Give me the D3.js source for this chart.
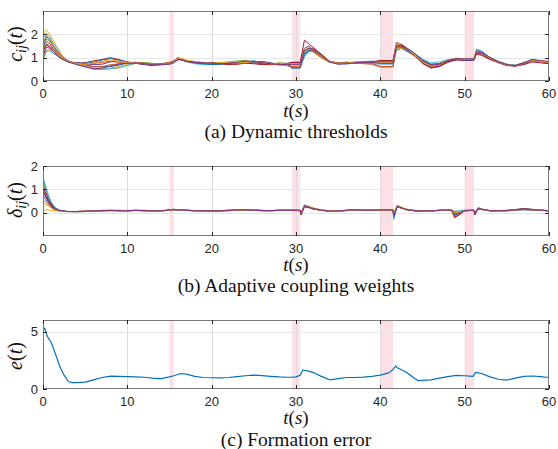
<!DOCTYPE html>
<html><head><meta charset="utf-8">
<script src="https://cdn.jsdelivr.net/npm/d3@7"></script>
<style>
html,body{margin:0;padding:0;background:#fff;}
svg{display:block;}
.tick-label{font-family:"Liberation Sans",Arial,Helvetica,sans-serif;font-size:13px;fill:#262626;}
.math{font-family:"Liberation Serif","Times New Roman",serif;fill:#111;}
.caption{font-family:"Liberation Serif","Times New Roman",serif;font-size:19.5px;fill:#111;}
</style>
</head><body>
<svg id="chart" width="558" height="449"></svg>
<script>
// ---------------- DATA ----------------
const COLORS = ["#0072BD","#D95319","#EDB120","#7E2F8E","#77AC30","#4DBEEE","#A2142F"];
const X_TICKS = [0,10,20,30,40,50,60];
const SHADE = [[15,15.5],[29.5,30.5],[40,41.5],[50,51.1]];

// (a) dynamic thresholds c_ij(t)
const T_A = [0,0.4,0.8,1.2,1.6,2,2.5,3,3.5,4,5,6,
  7,8,9,10,11,12,13,14,15,15.5,16,16.5,
  17,18,19,20,21,22,23,24,25,26,27,28,
  29,29.5,30.5,31,31.5,32,33,34,35,36,37,38,
  39,40,41.5,41.9,42.5,43,44,45,46,47,48,49,
  50,51.1,51.4,52,53,54,55,56,57,58,59,60];
const cA1 = [1.4,1.9,1.75,1.5,1.3,1.1,0.95,0.85,0.8,0.78,0.7,0.62,
  0.6,0.62,0.68,0.78,0.8,0.74,0.72,0.74,0.78,0.8,0.9,0.95,
  0.88,0.8,0.78,0.74,0.72,0.8,0.78,0.82,0.86,0.8,0.72,0.74,
  0.72,0.6,0.6,1.05,1.3,1.3,1.1,0.85,0.78,0.76,0.8,0.78,
  0.8,0.8,0.8,1.3,1.4,1.3,1.1,0.85,0.68,0.72,0.85,0.95,
  0.95,0.95,1.25,1.2,1.0,0.85,0.72,0.68,0.78,0.9,0.85,0.8];
const cA2 = [1.0,1.6,1.5,1.35,1.2,1.05,0.9,0.82,0.78,0.75,0.72,0.75,
  0.8,0.85,0.8,0.76,0.78,0.72,0.7,0.72,0.76,0.82,0.95,0.9,
  0.85,0.78,0.74,0.76,0.8,0.76,0.72,0.8,0.82,0.76,0.7,0.72,
  0.65,0.6,0.6,1.2,1.35,1.25,1.0,0.8,0.76,0.8,0.78,0.74,
  0.72,0.6,0.6,1.35,1.45,1.35,1.1,0.8,0.62,0.66,0.8,0.92,
  0.9,0.9,1.2,1.15,0.95,0.8,0.7,0.66,0.74,0.85,0.8,0.78];
const cA3 = [2.0,2.2,2.0,1.75,1.5,1.25,1.0,0.88,0.8,0.74,0.65,0.55,
  0.52,0.55,0.62,0.72,0.78,0.76,0.74,0.72,0.74,0.8,1.0,0.95,
  0.86,0.76,0.72,0.7,0.74,0.78,0.8,0.84,0.8,0.72,0.7,0.76,
  0.74,0.7,0.7,1.1,1.35,1.35,1.05,0.82,0.72,0.78,0.82,0.8,
  0.78,0.75,0.75,1.35,1.4,1.35,1.15,0.9,0.72,0.76,0.9,0.95,
  0.92,0.92,1.3,1.25,1.0,0.84,0.72,0.66,0.76,0.9,0.86,0.82];
const cA4 = [1.5,1.7,1.6,1.4,1.25,1.1,0.95,0.85,0.8,0.78,0.75,0.7,
  0.72,0.82,0.86,0.8,0.76,0.74,0.7,0.72,0.76,0.8,0.92,0.9,
  0.84,0.8,0.76,0.8,0.76,0.72,0.76,0.78,0.8,0.84,0.78,0.7,
  0.74,0.8,0.8,1.4,1.5,1.35,1.1,0.82,0.78,0.8,0.76,0.8,
  0.82,0.85,0.85,1.65,1.55,1.4,1.1,0.75,0.55,0.62,0.8,0.92,
  0.9,0.9,1.2,1.15,0.95,0.8,0.68,0.64,0.72,0.85,0.8,0.76];
const cA5 = [1.2,1.8,1.7,1.5,1.3,1.1,0.92,0.82,0.76,0.72,0.64,0.5,
  0.5,0.52,0.56,0.66,0.76,0.8,0.76,0.7,0.72,0.78,0.98,0.92,
  0.86,0.8,0.74,0.72,0.78,0.82,0.86,0.88,0.8,0.74,0.72,0.78,
  0.76,0.75,0.75,1.2,1.4,1.4,1.15,0.85,0.74,0.76,0.8,0.82,
  0.8,0.78,0.78,1.5,1.5,1.45,1.2,0.9,0.7,0.74,0.9,0.98,
  0.95,0.95,1.28,1.22,1.0,0.84,0.7,0.66,0.78,0.92,0.84,0.8];
const cA6 = [1.8,2.05,1.9,1.65,1.45,1.2,1.0,0.86,0.78,0.72,0.62,0.52,
  0.5,0.55,0.58,0.68,0.8,0.76,0.72,0.7,0.74,0.82,0.96,0.92,
  0.82,0.74,0.7,0.72,0.76,0.74,0.76,0.8,0.78,0.76,0.74,0.68,
  0.66,0.62,0.62,1.05,1.25,1.3,1.1,0.82,0.74,0.72,0.78,0.76,
  0.74,0.72,0.72,1.4,1.45,1.35,1.2,0.95,0.78,0.82,0.92,0.96,
  0.94,0.94,1.32,1.25,1.02,0.82,0.7,0.68,0.8,0.9,0.86,0.82];
const cA7 = [1.3,1.55,1.45,1.3,1.15,1.0,0.9,0.82,0.78,0.76,0.78,0.86,
  0.92,1.0,0.92,0.82,0.76,0.7,0.66,0.7,0.76,0.84,0.96,0.9,
  0.84,0.78,0.76,0.78,0.74,0.7,0.72,0.76,0.74,0.7,0.7,0.72,
  0.75,0.8,0.8,1.75,1.6,1.45,1.15,0.82,0.76,0.8,0.78,0.8,
  0.82,0.88,0.88,1.55,1.5,1.4,1.1,0.78,0.58,0.64,0.84,0.9,
  0.88,0.88,1.15,1.1,0.92,0.78,0.66,0.64,0.7,0.82,0.78,0.74];
const cA8 = [0.9,1.3,1.3,1.2,1.1,1.0,0.9,0.82,0.78,0.76,0.76,0.8,
  0.9,0.96,0.9,0.8,0.76,0.72,0.68,0.72,0.78,0.86,0.98,0.94,
  0.86,0.8,0.74,0.7,0.72,0.76,0.78,0.82,0.78,0.74,0.76,0.74,
  0.7,0.55,0.55,1.15,1.3,1.3,1.05,0.8,0.76,0.78,0.8,0.82,
  0.85,0.82,0.82,1.45,1.45,1.35,1.15,0.9,0.72,0.74,0.88,0.94,
  0.9,0.9,1.35,1.28,1.0,0.8,0.7,0.66,0.76,0.92,0.82,0.8];
const cA9 = [1.6,1.95,1.8,1.55,1.35,1.15,0.95,0.84,0.8,0.76,0.68,0.6,
  0.62,0.7,0.74,0.76,0.8,0.76,0.72,0.74,0.8,0.86,1.0,0.94,
  0.88,0.82,0.78,0.74,0.76,0.74,0.74,0.78,0.82,0.8,0.72,0.7,
  0.7,0.62,0.62,1.3,1.4,1.3,1.05,0.82,0.76,0.78,0.78,0.76,
  0.76,0.62,0.62,1.5,1.45,1.35,1.1,0.82,0.62,0.68,0.86,0.96,
  0.92,0.92,1.22,1.18,0.98,0.82,0.68,0.64,0.74,0.86,0.8,0.78];
const cA10 = [0.8,1.25,1.35,1.3,1.2,1.05,0.92,0.84,0.78,0.74,0.72,0.78,
  0.85,0.9,0.85,0.8,0.78,0.74,0.7,0.7,0.74,0.8,0.98,0.96,
  0.9,0.84,0.8,0.76,0.8,0.8,0.78,0.8,0.84,0.78,0.74,0.76,
  0.72,0.72,0.72,1.3,1.45,1.4,1.1,0.84,0.76,0.76,0.8,0.8,
  0.8,0.8,0.8,1.55,1.6,1.45,1.15,0.82,0.64,0.7,0.9,0.96,
  0.94,0.94,1.3,1.2,0.98,0.8,0.7,0.66,0.78,0.88,0.84,0.82];
const cA11 = [1.1,1.45,1.4,1.3,1.15,1.0,0.9,0.82,0.76,0.7,0.6,0.52,
  0.55,0.65,0.72,0.76,0.78,0.74,0.7,0.7,0.72,0.78,0.94,0.9,
  0.84,0.8,0.78,0.76,0.74,0.76,0.8,0.86,0.84,0.78,0.74,0.72,
  0.7,0.7,0.7,1.3,1.4,1.38,1.12,0.82,0.72,0.74,0.78,0.8,
  0.8,0.76,0.76,1.5,1.55,1.45,1.2,0.88,0.68,0.72,0.88,0.96,
  0.95,0.95,1.25,1.22,1.0,0.82,0.7,0.66,0.78,0.92,0.88,0.84];
const C_LINES = [cA1,cA2,cA3,cA4,cA5,cA6,cA7,cA8,cA9,cA10,cA11];

// (b) adaptive coupling weights delta_ij(t)
const T_B = [0,0.3,0.6,0.9,1.2,1.5,2,2.5,3,4,5,6,
  7,8,9,10,11,12,13,14,15,15.5,16,17,
  18,19,20,21,22,23,24,25,26,27,28,29,
  29.5,30.5,30.6,31,31.5,32,33,34,35,36,37,38,
  39,40,41.5,41.6,42,42.5,43,44,45,46,47,48,
  48.5,48.8,49.5,50,51.1,51.2,51.6,52,53,55,57,60];
const dB1 = [1.5,1.1,0.75,0.5,0.32,0.2,0.1,0.06,0.05,0.04,0.05,0.06,
  0.08,0.1,0.09,0.08,0.1,0.09,0.07,0.08,0.1,0.12,0.14,0.1,
  0.08,0.08,0.07,0.08,0.1,0.12,0.13,0.1,0.08,0.09,0.1,0.1,
  0.1,0.08,-0.05,0.3,0.25,0.18,0.1,0.06,0.07,0.1,0.11,0.1,
  0.1,0.12,0.12,-0.15,0.3,0.22,0.15,0.1,0.06,0.07,0.09,0.1,
  0.1,0.05,0.08,0.1,0.1,-0.05,0.2,0.15,0.08,0.08,0.12,0.08];
const dB2 = [1.2,0.9,0.6,0.4,0.26,0.16,0.08,0.05,0.04,0.04,0.05,0.07,
  0.09,0.09,0.08,0.09,0.1,0.08,0.08,0.07,0.12,0.14,0.12,0.1,
  0.08,0.07,0.08,0.09,0.1,0.11,0.12,0.1,0.09,0.08,0.1,0.11,
  0.1,0.1,-0.08,0.25,0.22,0.16,0.1,0.07,0.06,0.09,0.12,0.1,
  0.11,0.12,0.12,-0.05,0.28,0.2,0.14,0.08,0.07,0.08,0.1,0.1,
  0.08,-0.2,-0.05,0.1,0.1,-0.02,0.18,0.14,0.09,0.08,0.14,0.08];
const dB3 = [0.4,0.35,0.3,0.22,0.16,0.1,0.06,0.05,0.05,0.04,0.06,0.06,
  0.08,0.1,0.1,0.08,0.09,0.1,0.08,0.08,0.1,0.15,0.12,0.1,
  0.08,0.09,0.08,0.08,0.09,0.1,0.14,0.12,0.09,0.08,0.09,0.1,
  0.1,0.1,0.0,0.32,0.28,0.2,0.12,0.08,0.08,0.1,0.12,0.1,
  0.1,0.11,0.11,0.0,0.32,0.24,0.16,0.1,0.08,0.08,0.1,0.12,
  0.12,0.0,0.02,0.1,0.1,0.0,0.22,0.16,0.08,0.1,0.13,0.09];
const dB4 = [1.0,0.75,0.52,0.36,0.24,0.15,0.08,0.06,0.05,0.05,0.06,0.08,
  0.1,0.1,0.09,0.1,0.09,0.08,0.08,0.09,0.1,0.12,0.13,0.11,
  0.09,0.08,0.08,0.09,0.08,0.1,0.12,0.11,0.1,0.09,0.1,0.1,
  0.1,0.09,-0.02,0.28,0.24,0.18,0.1,0.08,0.08,0.1,0.14,0.1,
  0.1,0.12,0.12,-0.08,0.3,0.22,0.14,0.09,0.07,0.08,0.1,0.12,
  0.1,-0.1,0.0,0.08,0.1,-0.08,0.16,0.14,0.09,0.1,0.18,0.08];
const dB5 = [1.3,1.0,0.7,0.47,0.3,0.18,0.09,0.06,0.05,0.05,0.05,0.07,
  0.09,0.08,0.1,0.09,0.1,0.08,0.09,0.08,0.11,0.14,0.12,0.1,
  0.08,0.07,0.08,0.08,0.1,0.1,0.13,0.11,0.1,0.08,0.1,0.1,
  0.1,0.1,-0.04,0.3,0.27,0.2,0.12,0.08,0.07,0.09,0.12,0.1,
  0.1,0.11,0.11,-0.1,0.26,0.2,0.14,0.09,0.07,0.08,0.09,0.11,
  0.1,-0.05,0.02,0.08,0.1,-0.04,0.2,0.15,0.08,0.09,0.15,0.08];
const dB6 = [1.45,1.15,0.8,0.52,0.33,0.2,0.1,0.06,0.05,0.04,0.05,0.06,
  0.08,0.09,0.09,0.08,0.1,0.09,0.08,0.08,0.1,0.13,0.12,0.09,
  0.08,0.08,0.08,0.09,0.1,0.11,0.12,0.1,0.09,0.08,0.1,0.1,
  0.1,0.09,-0.06,0.35,0.26,0.18,0.11,0.07,0.07,0.1,0.12,0.1,
  0.1,0.12,0.12,-0.3,0.28,0.22,0.15,0.1,0.07,0.08,0.1,0.11,
  0.1,-0.08,0.0,0.08,0.1,-0.06,0.22,0.15,0.08,0.09,0.14,0.09];
const dB7 = [0.9,0.7,0.5,0.34,0.22,0.14,0.08,0.06,0.05,0.05,0.06,0.07,
  0.09,0.09,0.08,0.08,0.09,0.1,0.09,0.08,0.12,0.14,0.12,0.1,
  0.09,0.08,0.07,0.08,0.09,0.1,0.12,0.1,0.09,0.09,0.1,0.1,
  0.1,0.1,-0.1,0.26,0.22,0.16,0.1,0.07,0.07,0.1,0.13,0.1,
  0.1,0.12,0.12,-0.12,0.25,0.2,0.13,0.08,0.07,0.08,0.1,0.1,
  0.08,-0.22,-0.06,0.08,0.1,-0.1,0.18,0.14,0.08,0.09,0.16,0.08];
const dB8 = [0.75,0.58,0.42,0.3,0.2,0.13,0.07,0.05,0.05,0.05,0.06,0.07,
  0.09,0.1,0.09,0.09,0.1,0.09,0.08,0.08,0.11,0.13,0.12,0.1,
  0.09,0.08,0.08,0.08,0.1,0.11,0.12,0.11,0.09,0.09,0.1,0.1,
  0.1,0.1,-0.06,0.3,0.25,0.18,0.11,0.07,0.07,0.1,0.12,0.1,
  0.1,0.12,0.12,-0.2,0.27,0.21,0.14,0.09,0.07,0.08,0.1,0.11,
  0.1,-0.12,-0.02,0.09,0.1,-0.05,0.19,0.15,0.08,0.09,0.15,0.08];
const dB9 = [0.55,0.45,0.35,0.25,0.17,0.11,0.07,0.05,0.05,0.05,0.06,0.07,
  0.08,0.09,0.1,0.08,0.09,0.09,0.08,0.08,0.1,0.14,0.12,0.1,
  0.08,0.08,0.08,0.08,0.09,0.1,0.13,0.11,0.09,0.08,0.1,0.1,
  0.1,0.1,-0.03,0.27,0.23,0.17,0.1,0.07,0.07,0.09,0.12,0.1,
  0.1,0.11,0.11,-0.06,0.26,0.2,0.14,0.09,0.07,0.08,0.1,0.1,
  0.09,-0.18,-0.04,0.09,0.1,-0.03,0.17,0.14,0.08,0.09,0.15,0.08];
const dB10 = [0.1,0.12,0.12,0.1,0.09,0.08,0.06,0.05,0.05,0.05,0.06,0.07,
  0.09,0.1,0.09,0.09,0.1,0.09,0.08,0.08,0.1,0.13,0.12,0.1,
  0.08,0.08,0.08,0.09,0.1,0.1,0.12,0.11,0.09,0.08,0.1,0.1,
  0.1,0.1,-0.02,0.33,0.27,0.19,0.11,0.08,0.07,0.1,0.12,0.1,
  0.1,0.12,0.12,-0.04,0.3,0.22,0.15,0.1,0.07,0.08,0.1,0.11,
  0.1,-0.02,0.01,0.09,0.1,-0.01,0.21,0.16,0.08,0.09,0.14,0.09];
const dB11 = [1.1,0.85,0.6,0.42,0.28,0.17,0.09,0.06,0.05,0.05,0.06,0.07,
  0.09,0.09,0.09,0.08,0.1,0.09,0.08,0.08,0.11,0.14,0.12,0.1,
  0.08,0.08,0.08,0.08,0.1,0.11,0.13,0.1,0.09,0.09,0.1,0.1,
  0.1,0.1,-0.05,0.29,0.24,0.18,0.11,0.07,0.07,0.1,0.12,0.1,
  0.1,0.12,0.12,-0.1,0.27,0.21,0.14,0.09,0.07,0.08,0.1,0.11,
  0.1,-0.06,0.0,0.09,0.1,-0.04,0.2,0.15,0.08,0.09,0.15,0.08];
const D_LINES = [dB1,dB2,dB3,dB4,dB5,dB6,dB7,dB8,dB9,dB10,dB11];

// (c) formation error e(t)
const T_C = [0,0.2,0.5,1,1.5,2,2.5,3,3.5,4,
  5,6,7,8,9,10,11,12,13,14,
  15,15.5,16.3,17,18,19,20,21,22,23,
  24,25,26,27,28,29,29.5,30,30.5,30.8,
  31.5,32,33,34,35,36,37,38,39,40,
  41,41.5,41.8,42,43,44,44.5,46,
  47,48,49,50,51,51.3,52,53,54,55,56,57,58,59,60];
const E_VALUES = [5.1,5.3,4.6,4.0,3.0,1.95,1.2,0.65,0.55,0.55,
  0.6,0.8,1.0,1.12,1.1,1.08,1.06,1.02,0.94,0.9,
  1.05,1.15,1.35,1.3,1.1,1.0,0.98,0.97,1.0,1.08,
  1.15,1.2,1.16,1.1,1.05,1.02,1.02,1.05,1.2,1.65,
  1.55,1.45,1.1,0.8,0.9,1.0,1.0,1.04,1.1,1.2,
  1.4,1.7,2.0,1.85,1.5,0.95,0.72,0.8,
  0.95,1.08,1.18,1.15,1.1,1.45,1.35,1.05,0.85,0.78,0.95,1.1,1.13,1.08,1.0];

// ---------------- DRAW ----------------
const svg = d3.select("#chart");
const X0 = 43, X1 = 549;
const x = d3.scaleLinear().domain([0,60]).range([X0,X1]);
const AXIS = "#262626";

function drawPanel(p, idx) {
  const y = d3.scaleLinear().domain(p.yDomain).range([p.bottom, p.top]);
  const g = svg.append("g");
  const clipId = "clip" + idx;
  g.append("clipPath").attr("id", clipId).append("rect")
    .attr("x", X0).attr("y", p.top).attr("width", X1 - X0).attr("height", p.bottom - p.top);

  // shaded intervals
  g.selectAll("rect.shade").data(SHADE).enter().append("rect")
    .attr("class","shade")
    .attr("x", d => x(d[0])).attr("width", d => x(d[1]) - x(d[0]))
    .attr("y", p.top).attr("height", p.bottom - p.top)
    .attr("fill", "#fde0e5");

  // grid
  g.selectAll("line.gx").data(X_TICKS.slice(1,-1)).enter().append("line")
    .attr("x1", d => Math.round(x(d)) + 0.5).attr("x2", d => Math.round(x(d)) + 0.5)
    .attr("y1", p.top).attr("y2", p.bottom)
    .attr("stroke", "#dcdcdc").attr("stroke-width", 1);
  g.selectAll("line.gy").data(p.yTicks.filter(v => y(v) > p.top + 1 && y(v) < p.bottom - 1)).enter().append("line")
    .attr("y1", d => Math.round(y(d)) + 0.5).attr("y2", d => Math.round(y(d)) + 0.5)
    .attr("x1", X0).attr("x2", X1)
    .attr("stroke", "#e6e6e6").attr("stroke-width", 1);

  // data lines
  const line = d3.line().x(d => x(d[0])).y(d => y(d[1]));
  const lg = g.append("g").attr("clip-path", `url(#${clipId})`);
  p.series.forEach((s, i) => {
    lg.append("path").datum(d3.zip(p.times, s))
      .attr("fill", "none")
      .attr("stroke", p.colors ? p.colors[i % p.colors.length] : "#0072BD")
      .attr("stroke-width", p.lineWidth || 1)
      .attr("stroke-linejoin", "round")
      .attr("d", line);
  });

  // box
  g.append("rect").attr("x", X0 + 0.5).attr("y", p.top + 0.5)
    .attr("width", X1 - X0 - 1).attr("height", p.bottom - p.top - 1)
    .attr("fill", "none").attr("stroke", "#7a7a7a").attr("stroke-width", 1);

  // ticks (inward, both sides)
  const TL = 4;
  X_TICKS.forEach(v => {
    const xx = Math.round(x(v)) + 0.5;
    g.append("line").attr("x1", xx).attr("x2", xx).attr("y1", p.bottom).attr("y2", p.bottom - TL).attr("stroke", AXIS);
    g.append("line").attr("x1", xx).attr("x2", xx).attr("y1", p.top).attr("y2", p.top + TL).attr("stroke", AXIS);
    g.append("text").attr("class","tick-label").attr("x", x(v)).attr("y", p.tickBaseline)
      .attr("text-anchor","middle").text(v);
  });
  p.yTicks.forEach(v => {
    const yy = Math.round(y(v)) + 0.5;
    g.append("line").attr("x1", X0).attr("x2", X0 + TL).attr("y1", yy).attr("y2", yy).attr("stroke", AXIS);
    g.append("line").attr("x1", X1).attr("x2", X1 - TL).attr("y1", yy).attr("y2", yy).attr("stroke", AXIS);
    g.append("text").attr("class","tick-label").attr("x", 38).attr("y", y(v) + 4.5)
      .attr("text-anchor","end").text(v);
  });

  // x label t(s)
  const xl = g.append("text").attr("class","math").attr("font-size", 19)
    .attr("x", (X0 + X1) / 2).attr("y", p.xlabelBaseline).attr("text-anchor","middle");
  xl.append("tspan").attr("font-style","italic").text("t");
  xl.append("tspan").text("(");
  xl.append("tspan").attr("font-style","italic").text("s");
  xl.append("tspan").text(")");

  // y label
  const yl = g.append("text").attr("class","math").attr("font-size", 20)
    .attr("transform", `translate(${p.ylabelX},${p.ylabelY}) rotate(-90)`)
    .attr("text-anchor","middle");
  yl.append("tspan").attr("font-style","italic").text(p.ylabelSym);
  if (p.ylabelSub) {
    yl.append("tspan").attr("font-style","italic").attr("font-size", 14).attr("dy", 4).text(p.ylabelSub);
    yl.append("tspan").attr("dy", -4).text("(");
  } else {
    yl.append("tspan").text("(");
  }
  yl.append("tspan").attr("font-style","italic").text("t");
  yl.append("tspan").text(")");

  // caption
  g.append("text").attr("class","caption").attr("x", (X0 + X1) / 2).attr("y", p.captionBaseline)
    .attr("text-anchor","middle").text(p.caption);
}

const panels = [
  {top: 11, bottom: 81, yDomain: [0,3], yTicks: [0,1,2], times: T_A, series: C_LINES, colors: COLORS,
   tickBaseline: 98, xlabelBaseline: 117, captionBaseline: 138,
   ylabelX: 22, ylabelY: 44, ylabelSym: "c", ylabelSub: "ij", caption: "(a) Dynamic thresholds"},
  {top: 166, bottom: 236, yDomain: [-1,2], yTicks: [0,1,2], times: T_B, series: D_LINES, colors: COLORS,
   tickBaseline: 252.5, xlabelBaseline: 271, captionBaseline: 292,
   ylabelX: 22, ylabelY: 200, ylabelSym: "δ", ylabelSub: "ij", caption: "(b) Adaptive coupling weights"},
  {top: 320, bottom: 389, yDomain: [0,6], yTicks: [0,5], times: T_C, series: [E_VALUES], colors: ["#0072BD"], lineWidth: 1.2,
   tickBaseline: 405.5, xlabelBaseline: 423.5, captionBaseline: 446,
   ylabelX: 22, ylabelY: 356, ylabelSym: "e", ylabelSub: null, caption: "(c) Formation error"}
];
panels.forEach(drawPanel);
</script>
</body></html>
